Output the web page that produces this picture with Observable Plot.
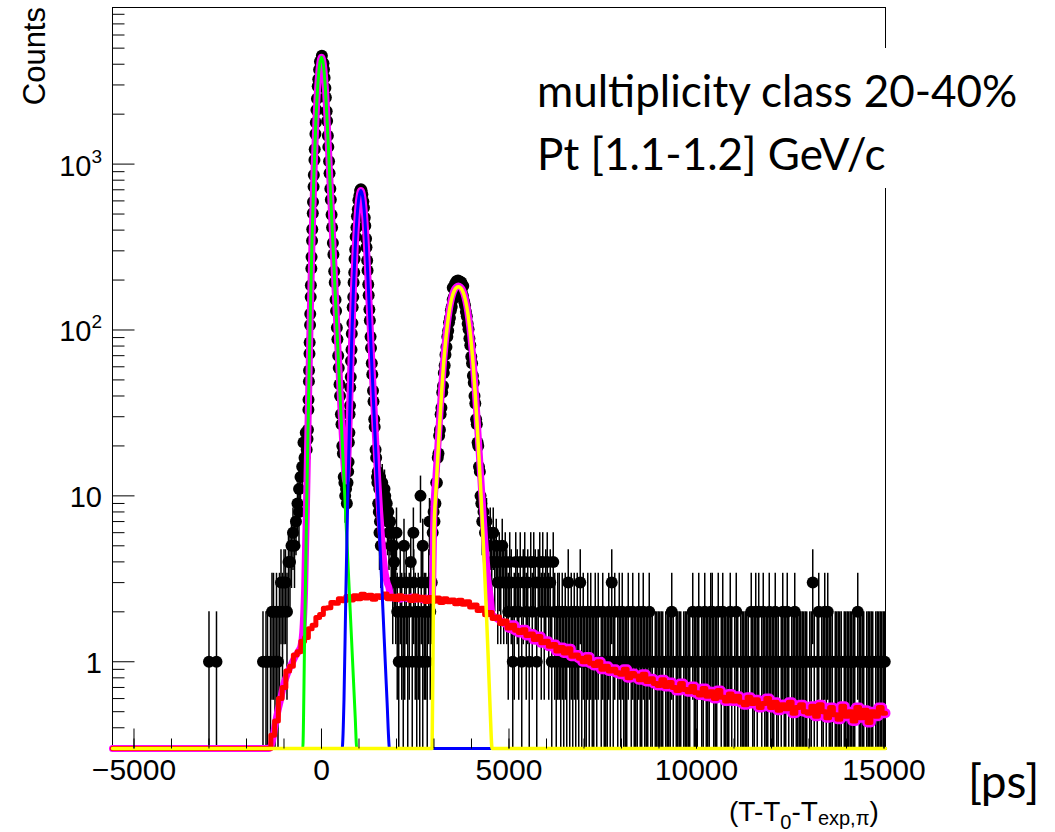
<!DOCTYPE html>
<html><head><meta charset="utf-8">
<script src="https://cdn.jsdelivr.net/npm/d3@7"></script>
<script src="https://cdn.jsdelivr.net/npm/@observablehq/plot@0.6"></script>
<style>
body{margin:0;background:#fff;}
#chart{position:relative;width:1055px;height:832px;}
</style></head><body><div id="chart"></div>
<script>
// ---------- axes ----------
const xDomain = [-5573, 15040];
const yDomain = [0.3, 8790];
const xMajorTicks = [-5000, 0, 5000, 10000, 15000];
const xMinorTicks = [-5000,-4000,-3000,-2000,-1000,0,1000,2000,3000,4000,5000,6000,7000,8000,9000,10000,11000,12000,13000,14000,15000];
const yMajorTicks = [1, 10, 100, 1000];
const yTickBase = ["1", "10", "10", "10"];
const yTickExponent = ["", "", "2", "3"];
const yMinorTicks = [0.4,0.5,0.6,0.7,0.8,0.9,2,3,4,5,6,7,8,9,20,30,40,50,60,70,80,90,200,300,400,500,600,700,800,900,2000,3000,4000,5000,6000,7000,8000];

// ---------- data histogram (counts per bin) ----------
const binStep = 40;
const leftBinStart = -5560;
const leftCounts =
  "0000000000" + "0000000000" + "0000000000" + "0000000000" + "0000000000" +
  "0000000000" + "0000100001" + "0000000000" + "0000000000" + "0000000000" +
  "1011012212" + "1232332445" + "65798";
const kpValleyStart = 1860;
const kpValleyCounts = "5343213212" + "3124132121" + "31221323";
const postProtonStart = 4580;
const postProtonCounts = "645343";
const tailBinStart = 4820;
const tailCounts =
  "5343243124" + "3241342314" + "2431342423" + "4231421221" + "2121312121" +
  "2131211212" + "1121201211" + "1213120121" + "2111201211" + "1211211121" +
  "1011111101" + "1112101111" + "0111110211" + "1201121112" + "2111201211" +
  "1121012101" + "1111102112" + "1201211121" + "1121101211" + "2101121111" +
  "1111011310" + "1201121211" + "1011111011" + "1111110211" + "1101111101" +
  "111111";
// high-count points around the three peaks: [time (ps), counts]
const peakPoints = [
  // pion left
  [10,4500],[-40,4150],[-64,3700],[-86,3250],[-100,2950],[-121,2480],[-134,2120],[-152,1780],[-162,1520],[-180,1230],
  [-188,1060],[-204,860],[-211,730],[-226,590],[-232,505],[-246,405],[-251,345],[-265,275],[-270,235],[-283,186],
  [-288,158],[-300,125],[-304,107],[-316,84],[-320,72],[-332,57],[-335,49],[-346,38],[-349,33],[-361,25],
  [-372,22],[-395,19],[-420,24],[-452,17],[-480,21],[-515,15],[-560,13],[-598,11],
  // pion right
  [52,4050],[66,3720],[83,3320],[104,2880],[117,2520],[138,2080],[150,1820],[170,1480],[182,1270],[202,1040],
  [215,880],[236,710],[249,610],[269,495],[283,415],[304,335],[318,285],[339,226],[353,193],[375,152],
  [389,130],[410,103],[425,88],[446,70],[460,59],[481,47],[496,40],[518,31],[533,27],[556,20],
  [571,18],[593,13],[611,12],[632,10],[655,11],[676,9],[694,12],
  // kaon left
  [712,14],[722,16],[729,21],[744,24],[748,31],[761,35],[767,45],[781,52],[787,65],[801,76],
  [808,95],[824,110],[832,137],[847,158],[856,193],[873,222],[882,268],[900,306],[911,365],[932,415],
  [946,485],[968,535],[984,605],[1010,645],[1030,690],[1050,705],
  // kaon right
  [1070,690],[1090,655],[1116,595],[1132,545],[1154,475],[1168,425],[1189,355],[1200,315],[1218,262],[1228,228],
  [1247,188],[1258,162],[1277,133],[1289,114],[1309,91],[1321,78],[1341,63],[1354,54],[1374,43],[1387,37],
  [1407,29],[1419,26],[1442,19],[1458,17],[1480,13],[1490,12],[1512,9],[1529,8],[1547,6],[1560,7],
  [1582,5],[1500,14],[1540,11],[1560,13],[1600,9],[1620,12],[1640,8],[1680,11],[1700,10],[1740,9],
  [1760,7],[1780,8],[1800,6],[1830,7],[1880,6],[1920,5],
  [2000,6],[2200,5],[2450,6],[2640,10],[2700,5],[2880,7],
  // proton left
  [2965,6],[2990,8],[3013,7],[3038,9],[3059,12],[3077,12],[3100,17],[3120,18],[3137,23],[3158,25],
  [3177,31],[3198,34],[3220,42],[3240,46],[3262,55],[3285,61],[3306,71],[3332,79],[3356,91],[3379,99],
  [3402,111],[3425,118],[3449,131],[3473,138],[3499,152],[3529,158],[3565,172],
  // proton top
  [3500,180],[3560,190],[3600,197],[3640,199],[3690,196],[3730,193],[3780,184],
  // proton right
  [3735,170],[3771,161],[3801,149],[3827,141],[3851,129],[3875,121],[3898,109],[3921,101],[3944,89],[3968,81],
  [3994,69],[4015,63],[4038,53],[4060,48],[4080,40],[4102,36],[4123,29],[4142,27],[4163,21],[4180,20],
  [4200,15],[4223,14],[4241,10],[4262,9],[4287,7],[4320,8],[4360,6],[4400,7],[4450,5],[4500,6],[4540,4]
];

// ---------- fit components: [time (ps), counts] ----------
const pionFit = [[-5573,0.3],[-500,0.3],[-450,1.37],[-400,7.47],[-350,33.3],[-300,121.6],[-250,364],[-200,893],[-150,1793],[-100,2950],
  [-50,3980],[0,4400],[50,3980],[100,2950],[150,1828],[200,1052],[250,605],[300,348],[350,200],[400,115],
  [450,66.4],[500,38.2],[550,22],[600,12.6],[650,7.28],[700,4.19],[750,2.41],[800,1.39],[850,0.8],[900,0.46],[940,0.3],[15040,0.3]];
const kaonFit = [[-5573,0.3],[550,0.3],[600,0.59],[650,2.61],[700,9.64],[750,29.9],[800,78.2],[850,171],[900,315],[950,488],
  [1000,634],[1050,692],[1100,634],[1150,488],[1200,315],[1250,179],[1300,100.6],[1350,56.6],[1400,31.8],[1450,17.9],
  [1500,10.06],[1550,5.66],[1600,3.18],[1650,1.79],[1700,1.0],[1750,0.566],[1800,0.318],[1810,0.3],[15040,0.3]];
const protonFit = [[-5573,0.3],[2950,0.3],[3000,6.2],[3050,10.5],[3100,17],[3150,27],[3200,41],[3250,60],[3300,81],[3350,104],
  [3400,127],[3450,147],[3500,163],[3550,174],[3600,180],[3650,182],[3700,180],[3750,174],[3800,163],[3850,147],
  [3900,127],[3950,104],[4000,81],[4050,60],[4100,41],[4150,27],[4200,17],[4250,10.5],[4300,6.2],[4350,3.5],
  [4400,1.9],[4450,1.0],[4500,0.5],[4550,0.3],[15040,0.3]];
const bkgFitStart = -1400;
const bkgFitStep = 100;
const bkgFitValues = [
  0.3,0.36,0.44,0.6,0.7,0.88,0.94,1.1,1.15,1.33,1.4,1.58,1.66,1.85,
  1.93,2.1,2.12,2.28,2.25,2.4,2.33,2.47,2.36,2.5,
  2.4,2.55,2.42,2.52,2.38,2.5,2.44,2.56,2.4,2.48,
  2.37,2.5,2.41,2.46,2.34,2.49,2.36,2.45,2.31,2.44,
  2.32,2.42,2.28,2.4,2.3,2.36,2.24,2.35,2.22,2.3,
  2.14,2.2,2.04,2.1,1.92,1.98,1.82,1.86,1.7,1.76,
  1.6,1.66,1.55,1.5,1.56,1.44,1.47,1.36,1.42,1.3,
  1.33,1.24,1.27,1.16,1.22,1.13,1.2,1.08,1.1,1.05,
  1.0,1.07,0.98,0.95,1.0,0.9,0.94,0.88,0.9,0.86,
  0.84,0.9,0.8,0.85,0.82,0.78,0.84,0.76,0.79,0.74,
  0.72,0.78,0.71,0.75,0.7,0.67,0.74,0.68,0.66,0.71,
  0.65,0.63,0.69,0.62,0.66,0.6,0.67,0.61,0.58,0.64,
  0.58,0.62,0.57,0.55,0.61,0.56,0.59,0.53,0.56,0.6,
  0.53,0.57,0.51,0.55,0.52,0.57,0.49,0.53,0.55,0.5,
  0.49,0.54,0.47,0.55,0.5,0.46,0.53,0.48,0.45,0.54,
  0.47,0.5,0.44,0.53,0.46,0.51,0.43,0.5,0.47,0.53,
  0.49];
const totalFitStart = -1400;
const totalFitStep = 50;
const totalFitValues = [
  0.3,0.31,0.34,0.4,0.46,0.52,0.58,0.66,0.74,0.8,0.86,0.92,0.97,1.02,1.08,1.12,1.17,1.24,
  1.5,2.73,8.9,34.8,123,366,895,1795,2952,3982,4402,3982,2952,1830,1054,607,350,202,117,68.7,40.5,24.4,
  15.6,12.3,16.2,34.7,82,174,318,490,636,694,636,490,318,181,103,59,34.3,20.4,12.5,8.1,
  5.66,4.23,3.4,3.0,2.79,2.44,2.42,2.44,2.45,2.41,2.38,2.41,2.44,2.42,2.4,2.43,2.46,2.42,2.38,2.4,
  2.43,2.4,2.36,2.39,2.42,2.4,2.38,2.36,8.5,12.9,19.4,29.4,43.3,62.4,83.4,106,129,149,165,176,
  182,184,182,176,165,149,129,106,83.2,62.2,43.2,29.1,19.1,12.6,8.3,5.5,3.9,2.96,2.45,1.92,
  1.88,1.84,1.8,1.78,1.76,1.72,1.68,1.67,1.62];

// ---------- build tables ----------
function countsToPoints(str, start) {
  const out = [];
  for (let i = 0; i < str.length; i++) {
    const n = +str[i];
    if (n > 0) out.push({x: start + i * binStep, n});
  }
  return out;
}
const points = [
  ...countsToPoints(leftCounts, leftBinStart),
  ...countsToPoints(kpValleyCounts, kpValleyStart),
  ...countsToPoints(postProtonCounts, postProtonStart),
  ...countsToPoints(tailCounts, tailBinStart),
  ...peakPoints.map(([x, n]) => ({x, n}))
];
const pairs = a => a.map(([x, y]) => ({x, y}));
const bkgFit = [{x: xDomain[0], y: 0.3}, ...bkgFitValues.map((y, i) => ({x: bkgFitStart + i * bkgFitStep, y})), {x: xDomain[1], y: 0.49}];
const totalFit = [{x: xDomain[0], y: 0.3}, ...totalFitValues.map((y, i) => ({x: totalFitStart + i * totalFitStep, y}))];
const bkgTail = bkgFit.filter(d => d.x >= 5000);

const sansFont = "'Liberation Sans', Arial, Helvetica, sans-serif";
const minus = d => (d < 0 ? "\u2212" + Math.abs(d) : String(d));
// inward tick shapes (ROOT style)
const tickUp = len => ({draw(ctx) { ctx.moveTo(0, 0); ctx.lineTo(0, -len); }});
const tickRight = len => ({draw(ctx) { ctx.moveTo(0, 0); ctx.lineTo(len, 0); }});

const plot = Plot.plot({
  width: 1055,
  height: 832,
  marginLeft: 112,
  marginRight: 170,
  marginTop: 7,
  marginBottom: 84,
  style: {fontFamily: sansFont, background: "white", overflow: "visible"},
  x: {domain: xDomain, axis: null},
  y: {type: "log", domain: yDomain, axis: null},
  marks: [
    Plot.frame({stroke: "black", strokeWidth: 1}),
    Plot.ruleX(points, {x: "x", y1: d => Math.max(d.n - Math.sqrt(d.n), yDomain[0]), y2: d => d.n + Math.sqrt(d.n), stroke: "black", strokeWidth: 1.5}),
    Plot.dot(points, {x: "x", y: "n", r: 6, fill: "black", stroke: "none"}),
    Plot.line(bkgTail, {x: "x", y: "y", stroke: "#ff00ff", strokeWidth: 10, curve: "step"}),
    Plot.line(totalFit, {x: "x", y: "y", stroke: "#ff00ff", strokeWidth: 7, curve: "monotone-x"}),
    Plot.line(bkgFit, {x: "x", y: "y", stroke: "#ff0000", strokeWidth: 5, curve: "step"}),
    Plot.line(pairs(pionFit), {x: "x", y: "y", stroke: "#00ff00", strokeWidth: 3, curve: "monotone-x"}),
    Plot.line(pairs(kaonFit), {x: "x", y: "y", stroke: "#0000ff", strokeWidth: 3, curve: "monotone-x"}),
    Plot.line(pairs(protonFit), {x: "x", y: "y", stroke: "#ffff00", strokeWidth: 3.5, curve: "monotone-x"}),
    Plot.dot(xMinorTicks, {x: d => d, y: () => yDomain[0], symbol: tickUp(10), stroke: "black", strokeWidth: 1, fill: "none"}),
    Plot.dot(xMajorTicks, {x: d => d, y: () => yDomain[0], symbol: tickUp(20), stroke: "black", strokeWidth: 1, fill: "none"}),
    Plot.dot(yMinorTicks, {x: () => xDomain[0], y: d => d, symbol: tickRight(12), stroke: "black", strokeWidth: 1, fill: "none"}),
    Plot.dot(yMajorTicks, {x: () => xDomain[0], y: d => d, symbol: tickRight(22), stroke: "black", strokeWidth: 1, fill: "none"}),
    Plot.axisX(xMajorTicks, {anchor: "bottom", tickSize: 0, tickPadding: 10, fontSize: 30, tickFormat: minus, label: null})
  ]
});
document.getElementById("chart").appendChild(plot);

// ---------- y tick labels with superscript exponents (positions from Plot's y scale) ----------
const svg = d3.select(plot);
const yScale = plot.scale("y");
const yLab = svg.append("g").attr("font-family", sansFont).attr("font-size", 29).attr("text-anchor", "end");
yMajorTicks.forEach((v, i) => {
  const t = yLab.append("text").attr("x", 102).attr("y", yScale.apply(v) + 12);
  t.append("tspan").text(yTickBase[i]);
  if (yTickExponent[i]) t.append("tspan").attr("font-size", 19).attr("dy", -13).text(yTickExponent[i]);
});

// ---------- annotations ----------
svg.append("rect").attr("x", 528).attr("y", 48).attr("width", 500).attr("height", 140).attr("fill", "white");
const box = svg.append("text").attr("font-family", "Lato, 'Open Sans', sans-serif").attr("font-size", 44)
  .attr("fill", "black").attr("text-anchor", "start");
box.append("tspan").attr("x", 537).attr("y", 107).text("multiplicity class 20-40%");
box.append("tspan").attr("x", 537).attr("y", 170).text("Pt [1.1-1.2] GeV/c");
svg.append("text").attr("font-family", "Lato, 'Open Sans', sans-serif").attr("font-size", 46)
  .attr("text-anchor", "start").attr("x", 968).attr("y", 798).text("[ps]");
svg.append("text").attr("font-family", sansFont).attr("font-size", 31).attr("text-anchor", "end")
  .attr("transform", "translate(45,7) rotate(-90)").text("Counts");
const xt = svg.append("text").attr("font-family", sansFont).attr("font-size", 28)
  .attr("text-anchor", "start").attr("x", 729).attr("y", 821);
xt.append("tspan").text("(T-T");
xt.append("tspan").attr("font-size", 20).attr("dy", 8).text("0");
xt.append("tspan").attr("dy", -8).text("-T");
xt.append("tspan").attr("font-size", 20).attr("dy", 4).text("exp,\u03C0");
xt.append("tspan").attr("dy", -4).text(")");
</script></body></html>
